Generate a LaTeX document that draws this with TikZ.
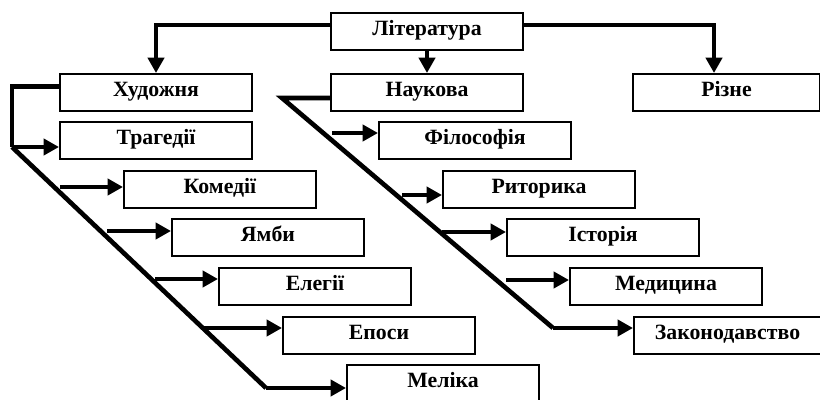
\documentclass[tikz,border=0pt]{standalone}
\usepackage{fontspec}
\setmainfont{Liberation Serif}
\usetikzlibrary{arrows.meta,calc}

\tikzset{
  blok/.style={draw, line width=1.4pt, minimum width=4.8cm, minimum height=0.925cm,
    inner sep=0pt, text height=10pt, text depth=4pt, anchor=north west,
    font=\fontsize{15.5}{17}\selectfont\bfseries},
  zv/.style={line width=3.3pt},
  strilka/.style={zv, -{Triangle[length=11pt,width=11.5pt]}},
}

\begin{document}
\begin{tikzpicture}[x=0.025cm, y=-0.025cm]
        \useasboundingbox (0,0) rectangle (820,400);

        % verkhnii riven
        \node[blok] (lit) at (330,12) {Література};
        \node[blok] (hud) at (59,73) {Художня};
        \node[blok] (nauk) at (330,73) {Наукова};
        \node[blok, minimum width=4.675cm] (rizne) at (632,73) {Різне};

        % khudozhnia
        \node[blok] (trag) at (59,121) {Трагедії};
        \node[blok] (kom) at (123,170) {Комедії};
        \node[blok] (jamb) at (171,218) {Ямби};
        \node[blok] (eleg) at (218,267) {Елегії};
        \node[blok] (epos) at (282,316) {Епоси};
        \node[blok, minimum height=0.9cm] (mel) at (346,364) {Меліка};

        % naukova
        \node[blok] (fil) at (378,121) {Філософія};
        \node[blok] (rit) at (442,170) {Риторика};
        \node[blok] (ist) at (506,218) {Історія};
        \node[blok] (med) at (569,267) {Медицина};
        \node[blok, minimum width=4.675cm] (zak) at (633,316) {Законодавство};

        % vid literatury
        \coordinate (lv) at ($(lit.west)+(0,-6.5)$);
        \coordinate (lp) at ($(lit.east)+(0,-6.5)$);
        \coordinate (rz) at ($(rizne.north)+(-12.5,0)$);
        \draw[strilka] (lv) -| (hud.north);
        \draw[strilka] (lp) -| (rz);
        \draw[strilka] (lit.south) -- (nauk.north);

        % hilka khudozhnia
        \coordinate (h0) at (12,147);
        \coordinate (h1) at (266,388);
        \draw[zv] ($(hud.west)+(0,-6)$) -| (h0);
        \draw[zv] (h0) -- (h1);
        \draw[strilka] (h0) -- (h0 -| trag.west);
        \draw[strilka] (h1) -- (h1 -| mel.west);
        \coordinate (hk) at (60,187);
        \coordinate (hj) at (107,231);
        \coordinate (he) at (155,279);
        \coordinate (hp) at (203,328);
        \draw[strilka] (hk) -- (hk -| kom.west);
        \draw[strilka] (hj) -- (hj -| jamb.west);
        \draw[strilka] (he) -- (he -| eleg.west);
        \draw[strilka] (hp) -- (hp -| epos.west);

        % hilka naukova
        \coordinate (n0) at (282,98);
        \coordinate (n1) at (553,328);
        \draw[zv] (n0 -| nauk.west) -- (n0) -- (n1);
        \draw[strilka] (n1) -- (n1 -| zak.west);
        \coordinate (nf) at (332,133);
        \coordinate (nr) at (402,195);
        \coordinate (ni) at (442,232);
        \coordinate (nm) at (506,280);
        \draw[strilka] (nf) -- (nf -| fil.west);
        \draw[strilka] (nr) -- (nr -| rit.west);
        \draw[strilka] (ni) -- (ni -| ist.west);
        \draw[strilka] (nm) -- (nm -| med.west);
\end{tikzpicture}
\end{document}
